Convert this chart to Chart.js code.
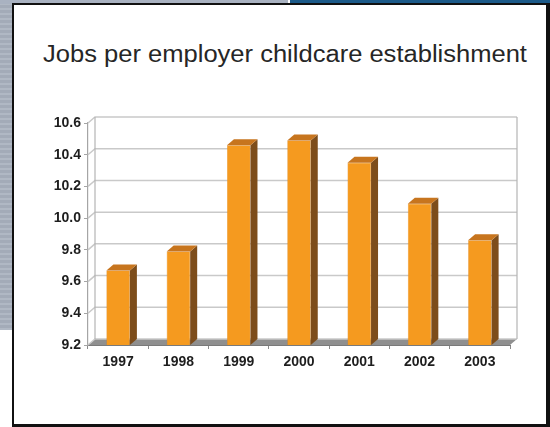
<!DOCTYPE html>
<html>
<head>
<meta charset="utf-8">
<script src="https://cdn.jsdelivr.net/npm/chart.js@4.4.0/dist/chart.umd.min.js"></script>
<style>
  html, body { margin: 0; padding: 0; width: 550px; height: 427px; overflow: hidden; background: #fff; }
  .strip-left { position: absolute; left: 0; top: 0; width: 12px; height: 330px;
    background: repeating-linear-gradient(180deg, #a3abb8 0 3px, #b0b8c4 3px 5px); }
  .strip-top { position: absolute; left: 0; top: 0; width: 288px; height: 4px; background: #a9b2c1; }
  .strip-blue { position: absolute; left: 290px; top: 0; width: 260px; height: 4px; background: #1c5a89; }
  .panel { position: absolute; left: 12px; top: 3px; width: 538px; height: 424px; box-sizing: border-box;
    border: 2px solid #111; border-right-width: 4px; border-bottom-width: 3px; background: #fff; }
  #title { position: absolute; left: 0; top: 41px; width: 570px; text-align: center;
    font: 23px "Liberation Sans", Arial, sans-serif; line-height: 26px; color: #262626;
    transform: scaleX(1.11); transform-origin: 285px 0; white-space: nowrap; }
  #chart { position: absolute; left: 0; top: 0; }
</style>
</head>
<body>
<div class="strip-left"></div>
<div class="strip-top"></div>
<div class="strip-blue"></div>
<div class="panel"></div>
<div id="title">Jobs per employer childcare establishment</div>
<canvas id="chart" width="550" height="427"></canvas>
<script>
// ---------------------------
// Data
// ---------------------------
const years = ['1997', '1998', '1999', '2000', '2001', '2002', '2003'];
const jobsPerEstablishment = [9.67, 9.79, 10.46, 10.49, 10.35, 10.09, 9.86];
const yMin = 9.2;
const yMax = 10.6;
const yStep = 0.2;

// depth of the 3D walls and columns, in pixels
const depth = { dx: 7, dy: 6 };

const FONT = '"Liberation Sans", Arial, sans-serif';

// back wall, side wall and floor drawn behind the columns,
// top and side faces of each column drawn over them
const box3d = {
  id: 'box3d',
  beforeDatasetsDraw(chart) {
    const { ctx, chartArea: { left, right, top, bottom }, scales: { y } } = chart;
    const { dx, dy } = depth;
    ctx.save();

    // floor
    ctx.fillStyle = '#8f8f8f';
    ctx.beginPath();
    ctx.moveTo(left, bottom);
    ctx.lineTo(right, bottom);
    ctx.lineTo(right + dx, bottom - dy);
    ctx.lineTo(left + dx, bottom - dy);
    ctx.closePath();
    ctx.fill();

    // gridlines running across the side wall and back wall
    ctx.strokeStyle = '#c9c9c9';
    ctx.lineWidth = 1.5;
    y.ticks.forEach(t => {
      const py = y.getPixelForValue(t.value);
      ctx.beginPath();
      ctx.moveTo(left, py);
      ctx.lineTo(left + dx, py - dy);
      ctx.lineTo(right + dx, py - dy);
      ctx.stroke();
    });

    // wall edges
    ctx.strokeStyle = '#b5b5b5';
    ctx.lineWidth = 1.2;
    ctx.beginPath();
    ctx.moveTo(left + dx, top - dy);
    ctx.lineTo(left + dx, bottom - dy);
    ctx.moveTo(right + dx, top - dy);
    ctx.lineTo(right + dx, bottom - dy);
    ctx.stroke();
    ctx.restore();
  },
  afterDatasetsDraw(chart) {
    const { ctx, chartArea } = chart;
    const { dx, dy } = depth;
    ctx.save();
    chart.getDatasetMeta(0).data.forEach(bar => {
      const { x, y, width, base } = bar.getProps(['x', 'y', 'width', 'base'], true);
      const l = x - width / 2;
      const r = x + width / 2;
      const b = Math.min(base, chartArea.bottom);

      // side face
      ctx.fillStyle = '#7d4d1b';
      ctx.beginPath();
      ctx.moveTo(r, y);
      ctx.lineTo(r + dx, y - dy);
      ctx.lineTo(r + dx, b - dy);
      ctx.lineTo(r, b);
      ctx.closePath();
      ctx.fill();

      // top face
      ctx.fillStyle = '#c7751e';
      ctx.beginPath();
      ctx.moveTo(l, y);
      ctx.lineTo(r, y);
      ctx.lineTo(r + dx, y - dy);
      ctx.lineTo(l + dx, y - dy);
      ctx.closePath();
      ctx.fill();
    });
    ctx.restore();
  }
};

const ctx = document.getElementById('chart').getContext('2d');

const jobsChart = new Chart(ctx, {
  type: 'bar',
  data: {
    labels: years,
    datasets: [{
      data: jobsPerEstablishment,
      backgroundColor: '#f59a1f',
      borderColor: '#d9821a',
      borderWidth: 0.5,
      barPercentage: 0.39,
      categoryPercentage: 1.0
    }]
  },
  options: {
    responsive: false,
    animation: false,
    devicePixelRatio: 1,
    layout: { padding: { top: 123, right: 40, bottom: 0, left: 0 } },
    plugins: {
      legend: { display: false },
      tooltip: { enabled: false }
    },
    scales: {
      x: {
        grid: { offset: true, drawOnChartArea: false, drawTicks: true, tickLength: 4, color: '#8a8a8a' },
        border: { display: true, color: '#7a7a7a', width: 1 },
        ticks: {
          color: '#1e1e1e',
          padding: 5,
          font: { family: FONT, size: 14, weight: 'bold' }
        },
        afterFit(scale) { scale.height = 82; }
      },
      y: {
        min: yMin,
        max: yMax,
        grid: { drawOnChartArea: false, drawTicks: true, tickLength: 4, color: '#a5a5a5' },
        border: { display: true, color: '#a5a5a5', width: 1.2 },
        ticks: {
          stepSize: yStep,
          color: '#1e1e1e',
          padding: 3,
          font: { family: FONT, size: 14, weight: 'bold' },
          callback: v => v.toFixed(1)
        },
        afterFit(scale) { scale.width = 88; }
      }
    }
  },
  plugins: [box3d]
});
</script>
</body>
</html>
